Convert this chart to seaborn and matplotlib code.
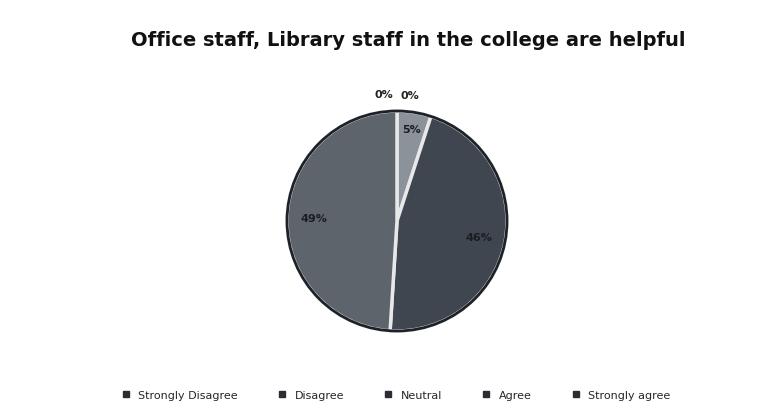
import numpy as np
import matplotlib
matplotlib.use("Agg")
import matplotlib.pyplot as plt
import seaborn as sns

categories = ["Strongly Disagree", "Disagree", "Neutral", "Agree", "Strongly agree"]
values = [0, 0, 5, 46, 49]
labels = ["0%", "0%", "5%", "46%", "49%"]
colors = ["#2f353c", "#3a4048", "#8c9299", "#3f464f", "#5d646c"]

sns.set_theme(style="white")
plt.rcParams['font.family'] = ['DejaVu Sans']

fig = plt.figure(figsize=(7.7, 4.1), dpi=100)
fig.patch.set_facecolor("white")
cx, cy, r = 397, 188, 110
half = 165
ax = fig.add_axes([(cx - half) / 770, (cy - half) / 410, 2 * half / 770, 2 * half / 410])

wedges, _ = ax.pie(values, colors=colors, startangle=90, counterclock=False,
                   radius=1.0, wedgeprops=dict(edgecolor="#e8e8e8", linewidth=2.5))
ax.add_patch(plt.Circle((0, 0), 1.0, fill=False, edgecolor="#1e2228", linewidth=2.0))
ax.set_xlim(-1.5, 1.5)
ax.set_ylim(-1.5, 1.5)
ax.set_aspect("equal")
ax.axis("off")

zero_offsets = [-0.12, 0.12]
zi = 0
for w, v, lab in zip(wedges, values, labels):
    ang = np.deg2rad((w.theta1 + w.theta2) / 2)
    if v == 0:
        x = np.cos(ang) * 1.15 + zero_offsets[zi]
        y = np.sin(ang) * 1.15
        zi += 1
        col = "#222222"
    else:
        d = 0.85 if v < 10 else 0.76
        x, y = np.cos(ang) * d, np.sin(ang) * d
        col = "#1a1d22"
    ax.text(x, y, lab, ha="center", va="center", fontsize=8, fontweight="bold", color=col)

fig.text(0.53, 0.9, "Office staff, Library staff in the college are helpful",
         ha="center", va="center", fontsize=14, fontweight="bold", color="#111111")

handles = [plt.Line2D([], [], marker="s", linestyle="", color="#2a2e33", markersize=5)
           for _ in categories]
fig.legend(handles, categories, loc="center", bbox_to_anchor=(0.51, 0.035), ncol=5,
           frameon=False, fontsize=8, handletextpad=0.1, columnspacing=3.0)

fig.savefig("out.png", dpi=100, facecolor="white")
